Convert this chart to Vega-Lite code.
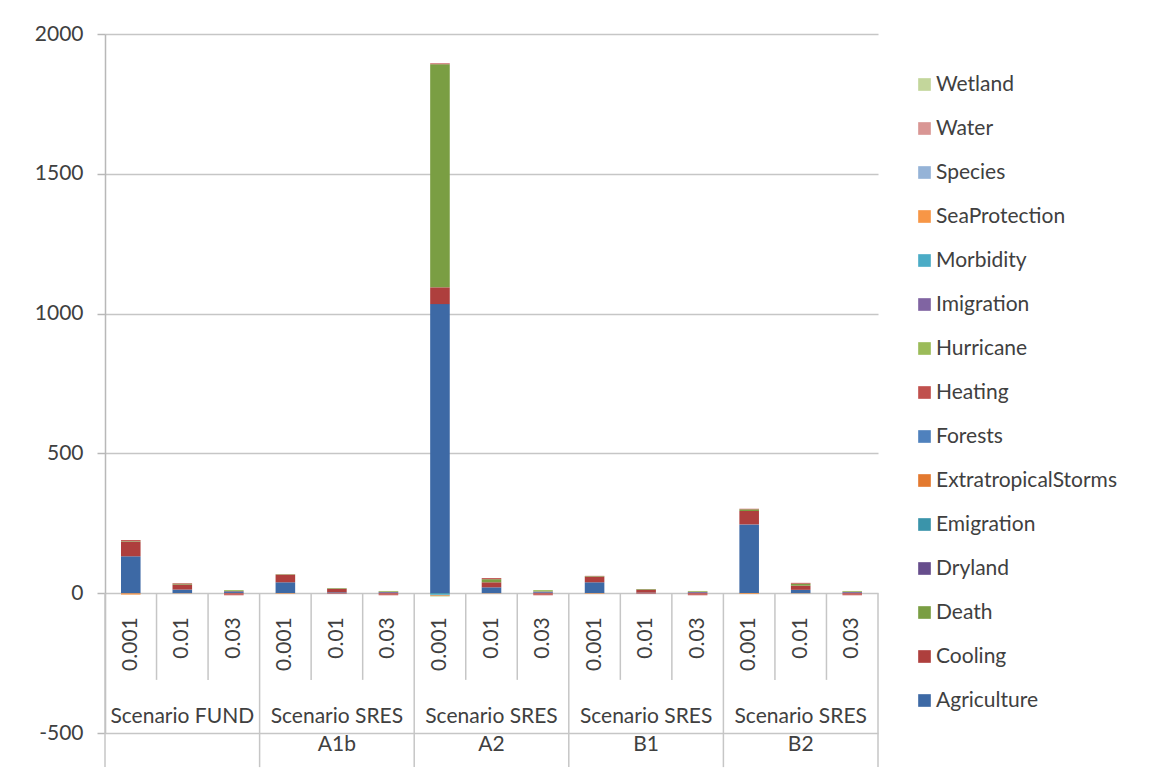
{
  "$schema": "https://vega.github.io/schema/vega-lite/v6.json",
  "autosize": {"type": "none"},
  "width": 773,
  "height": 699,
  "padding": {"left": 105, "top": 34, "right": 273, "bottom": 41},
  "background": "white",
  "config": {
    "view": {"stroke": null},
    "font": "Lato",
    "text": {"font": "Lato", "fontSize": 21, "color": "#404040"}
  },
  "datasets": {
    "bars": [
      {"cat": "FUND 0.001", "series": "Agriculture", "value": 132},
      {"cat": "FUND 0.001", "series": "Cooling", "value": 52},
      {"cat": "FUND 0.001", "series": "Death", "value": 2},
      {"cat": "FUND 0.001", "series": "Heating", "value": 4},
      {"cat": "FUND 0.001", "series": "ExtratropicalStorms", "value": -2},
      {"cat": "FUND 0.001", "series": "SeaProtection", "value": -3},
      {"cat": "FUND 0.01", "series": "Agriculture", "value": 13},
      {"cat": "FUND 0.01", "series": "Cooling", "value": 18},
      {"cat": "FUND 0.01", "series": "Death", "value": 3},
      {"cat": "FUND 0.01", "series": "Heating", "value": 2},
      {"cat": "FUND 0.01", "series": "SeaProtection", "value": -1},
      {"cat": "FUND 0.03", "series": "Agriculture", "value": 4},
      {"cat": "FUND 0.03", "series": "Dryland", "value": 3},
      {"cat": "FUND 0.03", "series": "Hurricane", "value": 4},
      {"cat": "FUND 0.03", "series": "Heating", "value": -6},
      {"cat": "FUND 0.03", "series": "Water", "value": -2},
      {"cat": "A1b 0.001", "series": "Agriculture", "value": 39},
      {"cat": "A1b 0.001", "series": "Cooling", "value": 26},
      {"cat": "A1b 0.001", "series": "Death", "value": 2},
      {"cat": "A1b 0.001", "series": "Heating", "value": 1},
      {"cat": "A1b 0.001", "series": "SeaProtection", "value": -2},
      {"cat": "A1b 0.01", "series": "Agriculture", "value": 3},
      {"cat": "A1b 0.01", "series": "Cooling", "value": 13},
      {"cat": "A1b 0.01", "series": "Death", "value": 2},
      {"cat": "A1b 0.01", "series": "Heating", "value": -2},
      {"cat": "A1b 0.03", "series": "Agriculture", "value": 2},
      {"cat": "A1b 0.03", "series": "Dryland", "value": 3},
      {"cat": "A1b 0.03", "series": "Hurricane", "value": 3},
      {"cat": "A1b 0.03", "series": "Heating", "value": -6},
      {"cat": "A1b 0.03", "series": "Water", "value": -2},
      {"cat": "A2 0.001", "series": "Agriculture", "value": 1034},
      {"cat": "A2 0.001", "series": "Cooling", "value": 60},
      {"cat": "A2 0.001", "series": "Death", "value": 798},
      {"cat": "A2 0.001", "series": "Heating", "value": 3},
      {"cat": "A2 0.001", "series": "SeaProtection", "value": -3},
      {"cat": "A2 0.001", "series": "Emigration", "value": -4},
      {"cat": "A2 0.001", "series": "Morbidity", "value": -3},
      {"cat": "A2 0.001", "series": "Wetland", "value": -2},
      {"cat": "A2 0.01", "series": "Agriculture", "value": 21},
      {"cat": "A2 0.01", "series": "Cooling", "value": 18},
      {"cat": "A2 0.01", "series": "Death", "value": 11},
      {"cat": "A2 0.01", "series": "Heating", "value": 4},
      {"cat": "A2 0.01", "series": "SeaProtection", "value": -1},
      {"cat": "A2 0.03", "series": "Agriculture", "value": 3},
      {"cat": "A2 0.03", "series": "Dryland", "value": 3},
      {"cat": "A2 0.03", "series": "Hurricane", "value": 5},
      {"cat": "A2 0.03", "series": "Heating", "value": -6},
      {"cat": "A2 0.03", "series": "Water", "value": -2},
      {"cat": "B1 0.001", "series": "Agriculture", "value": 39},
      {"cat": "B1 0.001", "series": "Cooling", "value": 20},
      {"cat": "B1 0.001", "series": "Death", "value": 2},
      {"cat": "B1 0.001", "series": "Heating", "value": 1},
      {"cat": "B1 0.001", "series": "SeaProtection", "value": -2},
      {"cat": "B1 0.01", "series": "Agriculture", "value": 2},
      {"cat": "B1 0.01", "series": "Cooling", "value": 11},
      {"cat": "B1 0.01", "series": "Death", "value": 2},
      {"cat": "B1 0.01", "series": "Heating", "value": -2},
      {"cat": "B1 0.03", "series": "Agriculture", "value": 2},
      {"cat": "B1 0.03", "series": "Dryland", "value": 3},
      {"cat": "B1 0.03", "series": "Hurricane", "value": 3},
      {"cat": "B1 0.03", "series": "Heating", "value": -6},
      {"cat": "B1 0.03", "series": "Water", "value": -2},
      {"cat": "B2 0.001", "series": "Agriculture", "value": 246},
      {"cat": "B2 0.001", "series": "Cooling", "value": 48},
      {"cat": "B2 0.001", "series": "Death", "value": 6},
      {"cat": "B2 0.001", "series": "Heating", "value": 2},
      {"cat": "B2 0.001", "series": "SeaProtection", "value": -3},
      {"cat": "B2 0.01", "series": "Agriculture", "value": 12},
      {"cat": "B2 0.01", "series": "Cooling", "value": 15},
      {"cat": "B2 0.01", "series": "Death", "value": 7},
      {"cat": "B2 0.01", "series": "Heating", "value": 3},
      {"cat": "B2 0.01", "series": "SeaProtection", "value": -1},
      {"cat": "B2 0.03", "series": "Agriculture", "value": 2},
      {"cat": "B2 0.03", "series": "Dryland", "value": 3},
      {"cat": "B2 0.03", "series": "Hurricane", "value": 3},
      {"cat": "B2 0.03", "series": "Heating", "value": -6},
      {"cat": "B2 0.03", "series": "Water", "value": -2}
    ],
    "cats": [
      {"cat": "FUND 0.001", "rate": "0.001"},
      {"cat": "FUND 0.01", "rate": "0.01"},
      {"cat": "FUND 0.03", "rate": "0.03"},
      {"cat": "A1b 0.001", "rate": "0.001"},
      {"cat": "A1b 0.01", "rate": "0.01"},
      {"cat": "A1b 0.03", "rate": "0.03"},
      {"cat": "A2 0.001", "rate": "0.001"},
      {"cat": "A2 0.01", "rate": "0.01"},
      {"cat": "A2 0.03", "rate": "0.03"},
      {"cat": "B1 0.001", "rate": "0.001"},
      {"cat": "B1 0.01", "rate": "0.01"},
      {"cat": "B1 0.03", "rate": "0.03"},
      {"cat": "B2 0.001", "rate": "0.001"},
      {"cat": "B2 0.01", "rate": "0.01"},
      {"cat": "B2 0.03", "rate": "0.03"}
    ],
    "rateSeps": [
      {"cat": "FUND 0.01"}, {"cat": "FUND 0.03"},
      {"cat": "A1b 0.01"}, {"cat": "A1b 0.03"},
      {"cat": "A2 0.01"}, {"cat": "A2 0.03"},
      {"cat": "B1 0.01"}, {"cat": "B1 0.03"},
      {"cat": "B2 0.01"}, {"cat": "B2 0.03"}
    ],
    "groupSeps": [
      {"cat": "FUND 0.001"}, {"cat": "A1b 0.001"}, {"cat": "A2 0.001"},
      {"cat": "B1 0.001"}, {"cat": "B2 0.001"}
    ],
    "lastSep": [{"cat": "B2 0.03"}],
    "groups": [
      {"cat": "FUND 0.01", "line1": "Scenario FUND", "line2": ""},
      {"cat": "A1b 0.01", "line1": "Scenario SRES", "line2": "A1b"},
      {"cat": "A2 0.01", "line1": "Scenario SRES", "line2": "A2"},
      {"cat": "B1 0.01", "line1": "Scenario SRES", "line2": "B1"},
      {"cat": "B2 0.01", "line1": "Scenario SRES", "line2": "B2"}
    ]
  },
  "encoding": {
    "x": {
      "field": "cat",
      "type": "nominal",
      "axis": null,
      "scale": {
        "domain": ["FUND 0.001", "FUND 0.01", "FUND 0.03", "A1b 0.001", "A1b 0.01", "A1b 0.03", "A2 0.001", "A2 0.01", "A2 0.03", "B1 0.001", "B1 0.01", "B1 0.03", "B2 0.001", "B2 0.01", "B2 0.03"],
        "paddingInner": 0,
        "paddingOuter": 0
      }
    }
  },
  "layer": [
    {
      "data": {"name": "bars"},
      "mark": {"type": "bar", "width": {"band": 0.38}},
      "encoding": {
        "y": {
          "field": "value",
          "type": "quantitative",
          "stack": "zero",
          "scale": {"domain": [-500, 2000], "nice": false, "zero": false},
          "axis": {
            "values": [-500, 0, 500, 1000, 1500, 2000],
            "labelExpr": "'' + datum.value",
            "title": null,
            "grid": true,
            "gridColor": "#c6c6c6",
            "gridWidth": 1.5,
            "domainColor": "#b8b8b8",
            "domainWidth": 1.5,
            "tickColor": "#b8b8b8",
            "tickWidth": 1.5,
            "tickSize": 8,
            "labelFont": "Lato",
            "labelFontSize": 21,
            "labelColor": "#404040",
            "labelPadding": 14
          }
        },
        "color": {
          "field": "series",
          "type": "nominal",
          "scale": {
            "domain": ["Wetland", "Water", "Species", "SeaProtection", "Morbidity", "Imigration", "Hurricane", "Heating", "Forests", "ExtratropicalStorms", "Emigration", "Dryland", "Death", "Cooling", "Agriculture"],
            "range": ["#c3d69b", "#d99694", "#95b3d7", "#f79646", "#4bacc6", "#8064a2", "#9bbb59", "#c0504d", "#4f81bd", "#e3792f", "#3a94aa", "#664d8c", "#7a9e43", "#ae3f3d", "#3d69a5"]
          },
          "legend": {
            "title": null,
            "orient": "none",
            "legendX": 809,
            "legendY": 40,
            "symbolType": "square",
            "symbolSize": 160,
            "symbolStrokeWidth": 0,
            "labelFont": "Lato",
            "labelFontSize": 21,
            "labelColor": "#404040",
            "labelOffset": 1,
            "labelLimit": 0,
            "rowPadding": 22
          }
        },
        "order": {"field": "series", "sort": "ascending"}
      }
    },
    {
      "data": {"name": "rateSeps"},
      "mark": {"type": "rule", "color": "#c6c6c6", "strokeWidth": 1.5},
      "encoding": {
        "x": {"field": "cat", "type": "nominal", "bandPosition": 0},
        "y": {"datum": 0},
        "y2": {"datum": -310}
      }
    },
    {
      "data": {"name": "groupSeps"},
      "mark": {"type": "rule", "color": "#c6c6c6", "strokeWidth": 1.5},
      "encoding": {
        "x": {"field": "cat", "type": "nominal", "bandPosition": 0},
        "y": {"datum": 0},
        "y2": {"datum": -622}
      }
    },
    {
      "data": {"name": "lastSep"},
      "mark": {"type": "rule", "color": "#c6c6c6", "strokeWidth": 1.5},
      "encoding": {
        "x": {"field": "cat", "type": "nominal", "bandPosition": 1},
        "y": {"datum": 0},
        "y2": {"datum": -622}
      }
    },
    {
      "data": {"name": "cats"},
      "mark": {"type": "text", "angle": 270, "align": "right", "baseline": "middle"},
      "encoding": {
        "y": {"datum": -86},
        "text": {"field": "rate"}
      }
    },
    {
      "data": {"name": "groups"},
      "mark": {"type": "text", "align": "center", "baseline": "middle"},
      "encoding": {
        "y": {"datum": -443},
        "text": {"field": "line1"}
      }
    },
    {
      "data": {"name": "groups"},
      "mark": {"type": "text", "align": "center", "baseline": "middle"},
      "encoding": {
        "y": {"datum": -543},
        "text": {"field": "line2"}
      }
    }
  ]
}
